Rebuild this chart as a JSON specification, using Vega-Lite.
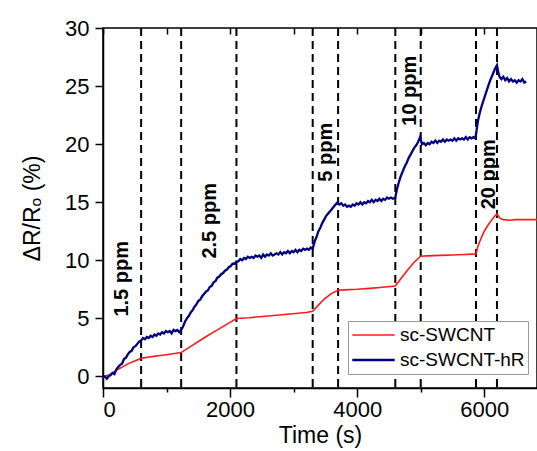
{
  "$schema": "https://vega.github.io/schema/vega-lite/v6.json",
  "width": 434,
  "height": 360,
  "autosize": {"type": "none"},
  "padding": {"left": 103, "top": 28, "right": 0, "bottom": 63},
  "background": "white",
  "config": {
    "view": {"stroke": "black", "strokeWidth": 1.5},
    "font": "Liberation Sans",
    "axis": {"domainColor": "black", "domainWidth": 1.5, "tickColor": "black", "tickWidth": 1.5, "labelColor": "black", "titleColor": "black", "grid": false, "labelFont": "Liberation Sans", "titleFont": "Liberation Sans", "titleFontWeight": "normal"}
  },
  "datasets": {
    "marks": [{"t": 600}, {"t": 1230}, {"t": 2100}, {"t": 3300}, {"t": 3700}, {"t": 4600}, {"t": 5000}, {"t": 5870}, {"t": 6200}],
    "labels": [
      {"t": 294, "v": 8.4, "label": "1.5 ppm"},
      {"t": 1680, "v": 13.4, "label": "2.5 ppm"},
      {"t": 3507, "v": 19.3, "label": "5 ppm"},
      {"t": 4830, "v": 24.6, "label": "10 ppm"},
      {"t": 6074, "v": 17.4, "label": "20 ppm"}
    ],
    "series": [
      {"series": "sc-SWCNT", "t": 0, "v": -0.05},
      {"series": "sc-SWCNT", "t": 50, "v": 0.05},
      {"series": "sc-SWCNT", "t": 100, "v": 0.15},
      {"series": "sc-SWCNT", "t": 150, "v": 0.3},
      {"series": "sc-SWCNT", "t": 200, "v": 0.5},
      {"series": "sc-SWCNT", "t": 300, "v": 0.8},
      {"series": "sc-SWCNT", "t": 400, "v": 1.1},
      {"series": "sc-SWCNT", "t": 500, "v": 1.33},
      {"series": "sc-SWCNT", "t": 600, "v": 1.55},
      {"series": "sc-SWCNT", "t": 700, "v": 1.65},
      {"series": "sc-SWCNT", "t": 800, "v": 1.72},
      {"series": "sc-SWCNT", "t": 900, "v": 1.8},
      {"series": "sc-SWCNT", "t": 1000, "v": 1.87},
      {"series": "sc-SWCNT", "t": 1100, "v": 1.95},
      {"series": "sc-SWCNT", "t": 1230, "v": 2.05},
      {"series": "sc-SWCNT", "t": 1400, "v": 2.65},
      {"series": "sc-SWCNT", "t": 1600, "v": 3.35},
      {"series": "sc-SWCNT", "t": 1800, "v": 4.0},
      {"series": "sc-SWCNT", "t": 2000, "v": 4.65},
      {"series": "sc-SWCNT", "t": 2100, "v": 4.98},
      {"series": "sc-SWCNT", "t": 2300, "v": 5.05},
      {"series": "sc-SWCNT", "t": 2600, "v": 5.2},
      {"series": "sc-SWCNT", "t": 2900, "v": 5.35},
      {"series": "sc-SWCNT", "t": 3200, "v": 5.5},
      {"series": "sc-SWCNT", "t": 3300, "v": 5.6},
      {"series": "sc-SWCNT", "t": 3400, "v": 6.2},
      {"series": "sc-SWCNT", "t": 3500, "v": 6.75},
      {"series": "sc-SWCNT", "t": 3600, "v": 7.15},
      {"series": "sc-SWCNT", "t": 3700, "v": 7.42},
      {"series": "sc-SWCNT", "t": 3800, "v": 7.45},
      {"series": "sc-SWCNT", "t": 4000, "v": 7.5},
      {"series": "sc-SWCNT", "t": 4200, "v": 7.58},
      {"series": "sc-SWCNT", "t": 4400, "v": 7.68},
      {"series": "sc-SWCNT", "t": 4600, "v": 7.78},
      {"series": "sc-SWCNT", "t": 4700, "v": 8.5},
      {"series": "sc-SWCNT", "t": 4800, "v": 9.2},
      {"series": "sc-SWCNT", "t": 4900, "v": 9.85},
      {"series": "sc-SWCNT", "t": 5000, "v": 10.35},
      {"series": "sc-SWCNT", "t": 5100, "v": 10.38},
      {"series": "sc-SWCNT", "t": 5300, "v": 10.42},
      {"series": "sc-SWCNT", "t": 5500, "v": 10.45},
      {"series": "sc-SWCNT", "t": 5700, "v": 10.5},
      {"series": "sc-SWCNT", "t": 5870, "v": 10.55},
      {"series": "sc-SWCNT", "t": 5900, "v": 11.2},
      {"series": "sc-SWCNT", "t": 5950, "v": 11.9},
      {"series": "sc-SWCNT", "t": 6000, "v": 12.5},
      {"series": "sc-SWCNT", "t": 6050, "v": 12.95},
      {"series": "sc-SWCNT", "t": 6100, "v": 13.35},
      {"series": "sc-SWCNT", "t": 6150, "v": 13.7},
      {"series": "sc-SWCNT", "t": 6200, "v": 14.0},
      {"series": "sc-SWCNT", "t": 6250, "v": 13.6},
      {"series": "sc-SWCNT", "t": 6300, "v": 13.5},
      {"series": "sc-SWCNT", "t": 6400, "v": 13.45},
      {"series": "sc-SWCNT", "t": 6500, "v": 13.5},
      {"series": "sc-SWCNT", "t": 6600, "v": 13.5},
      {"series": "sc-SWCNT", "t": 6700, "v": 13.5},
      {"series": "sc-SWCNT", "t": 6830, "v": 13.5},
      {"series": "sc-SWCNT-hR", "t": 0, "v": -0.1},
      {"series": "sc-SWCNT-hR", "t": 30, "v": 0.0},
      {"series": "sc-SWCNT-hR", "t": 60, "v": -0.2},
      {"series": "sc-SWCNT-hR", "t": 90, "v": 0.0},
      {"series": "sc-SWCNT-hR", "t": 120, "v": 0.1},
      {"series": "sc-SWCNT-hR", "t": 150, "v": 0.3},
      {"series": "sc-SWCNT-hR", "t": 180, "v": 0.2},
      {"series": "sc-SWCNT-hR", "t": 210, "v": 0.6},
      {"series": "sc-SWCNT-hR", "t": 240, "v": 0.8},
      {"series": "sc-SWCNT-hR", "t": 270, "v": 1.0},
      {"series": "sc-SWCNT-hR", "t": 300, "v": 1.1},
      {"series": "sc-SWCNT-hR", "t": 330, "v": 1.5},
      {"series": "sc-SWCNT-hR", "t": 360, "v": 1.6},
      {"series": "sc-SWCNT-hR", "t": 390, "v": 1.9},
      {"series": "sc-SWCNT-hR", "t": 420, "v": 2.1},
      {"series": "sc-SWCNT-hR", "t": 450, "v": 2.2},
      {"series": "sc-SWCNT-hR", "t": 480, "v": 2.5},
      {"series": "sc-SWCNT-hR", "t": 510, "v": 2.6},
      {"series": "sc-SWCNT-hR", "t": 540, "v": 2.8},
      {"series": "sc-SWCNT-hR", "t": 570, "v": 3.0},
      {"series": "sc-SWCNT-hR", "t": 600, "v": 3.1},
      {"series": "sc-SWCNT-hR", "t": 630, "v": 3.3},
      {"series": "sc-SWCNT-hR", "t": 660, "v": 3.2},
      {"series": "sc-SWCNT-hR", "t": 690, "v": 3.4},
      {"series": "sc-SWCNT-hR", "t": 720, "v": 3.3},
      {"series": "sc-SWCNT-hR", "t": 750, "v": 3.5},
      {"series": "sc-SWCNT-hR", "t": 780, "v": 3.4},
      {"series": "sc-SWCNT-hR", "t": 810, "v": 3.6},
      {"series": "sc-SWCNT-hR", "t": 840, "v": 3.5},
      {"series": "sc-SWCNT-hR", "t": 870, "v": 3.7},
      {"series": "sc-SWCNT-hR", "t": 900, "v": 3.6},
      {"series": "sc-SWCNT-hR", "t": 930, "v": 3.8},
      {"series": "sc-SWCNT-hR", "t": 960, "v": 3.7},
      {"series": "sc-SWCNT-hR", "t": 990, "v": 3.9},
      {"series": "sc-SWCNT-hR", "t": 1020, "v": 3.8},
      {"series": "sc-SWCNT-hR", "t": 1050, "v": 3.9},
      {"series": "sc-SWCNT-hR", "t": 1080, "v": 3.7},
      {"series": "sc-SWCNT-hR", "t": 1110, "v": 4.0},
      {"series": "sc-SWCNT-hR", "t": 1140, "v": 3.9},
      {"series": "sc-SWCNT-hR", "t": 1170, "v": 4.0},
      {"series": "sc-SWCNT-hR", "t": 1200, "v": 3.8},
      {"series": "sc-SWCNT-hR", "t": 1230, "v": 4.0},
      {"series": "sc-SWCNT-hR", "t": 1260, "v": 4.3},
      {"series": "sc-SWCNT-hR", "t": 1290, "v": 4.7},
      {"series": "sc-SWCNT-hR", "t": 1320, "v": 5.0},
      {"series": "sc-SWCNT-hR", "t": 1350, "v": 5.2},
      {"series": "sc-SWCNT-hR", "t": 1380, "v": 5.5},
      {"series": "sc-SWCNT-hR", "t": 1410, "v": 5.7},
      {"series": "sc-SWCNT-hR", "t": 1440, "v": 6.0},
      {"series": "sc-SWCNT-hR", "t": 1470, "v": 6.2},
      {"series": "sc-SWCNT-hR", "t": 1500, "v": 6.5},
      {"series": "sc-SWCNT-hR", "t": 1530, "v": 6.6},
      {"series": "sc-SWCNT-hR", "t": 1560, "v": 6.9},
      {"series": "sc-SWCNT-hR", "t": 1590, "v": 7.1},
      {"series": "sc-SWCNT-hR", "t": 1620, "v": 7.3},
      {"series": "sc-SWCNT-hR", "t": 1650, "v": 7.4},
      {"series": "sc-SWCNT-hR", "t": 1680, "v": 7.7},
      {"series": "sc-SWCNT-hR", "t": 1710, "v": 7.8},
      {"series": "sc-SWCNT-hR", "t": 1740, "v": 8.1},
      {"series": "sc-SWCNT-hR", "t": 1770, "v": 8.2},
      {"series": "sc-SWCNT-hR", "t": 1800, "v": 8.5},
      {"series": "sc-SWCNT-hR", "t": 1830, "v": 8.6},
      {"series": "sc-SWCNT-hR", "t": 1860, "v": 8.8},
      {"series": "sc-SWCNT-hR", "t": 1890, "v": 8.9},
      {"series": "sc-SWCNT-hR", "t": 1920, "v": 9.1},
      {"series": "sc-SWCNT-hR", "t": 1950, "v": 9.2},
      {"series": "sc-SWCNT-hR", "t": 1980, "v": 9.4},
      {"series": "sc-SWCNT-hR", "t": 2010, "v": 9.5},
      {"series": "sc-SWCNT-hR", "t": 2040, "v": 9.7},
      {"series": "sc-SWCNT-hR", "t": 2070, "v": 9.7},
      {"series": "sc-SWCNT-hR", "t": 2100, "v": 9.9},
      {"series": "sc-SWCNT-hR", "t": 2130, "v": 9.9},
      {"series": "sc-SWCNT-hR", "t": 2160, "v": 10.1},
      {"series": "sc-SWCNT-hR", "t": 2190, "v": 10.0},
      {"series": "sc-SWCNT-hR", "t": 2220, "v": 10.2},
      {"series": "sc-SWCNT-hR", "t": 2250, "v": 10.1},
      {"series": "sc-SWCNT-hR", "t": 2280, "v": 10.3},
      {"series": "sc-SWCNT-hR", "t": 2310, "v": 10.2},
      {"series": "sc-SWCNT-hR", "t": 2340, "v": 10.3},
      {"series": "sc-SWCNT-hR", "t": 2370, "v": 10.2},
      {"series": "sc-SWCNT-hR", "t": 2400, "v": 10.4},
      {"series": "sc-SWCNT-hR", "t": 2430, "v": 10.3},
      {"series": "sc-SWCNT-hR", "t": 2460, "v": 10.4},
      {"series": "sc-SWCNT-hR", "t": 2490, "v": 10.2},
      {"series": "sc-SWCNT-hR", "t": 2520, "v": 10.5},
      {"series": "sc-SWCNT-hR", "t": 2550, "v": 10.3},
      {"series": "sc-SWCNT-hR", "t": 2580, "v": 10.5},
      {"series": "sc-SWCNT-hR", "t": 2610, "v": 10.4},
      {"series": "sc-SWCNT-hR", "t": 2640, "v": 10.6},
      {"series": "sc-SWCNT-hR", "t": 2670, "v": 10.4},
      {"series": "sc-SWCNT-hR", "t": 2700, "v": 10.5},
      {"series": "sc-SWCNT-hR", "t": 2730, "v": 10.6},
      {"series": "sc-SWCNT-hR", "t": 2760, "v": 10.5},
      {"series": "sc-SWCNT-hR", "t": 2790, "v": 10.7},
      {"series": "sc-SWCNT-hR", "t": 2820, "v": 10.5},
      {"series": "sc-SWCNT-hR", "t": 2850, "v": 10.7},
      {"series": "sc-SWCNT-hR", "t": 2880, "v": 10.6},
      {"series": "sc-SWCNT-hR", "t": 2910, "v": 10.8},
      {"series": "sc-SWCNT-hR", "t": 2940, "v": 10.6},
      {"series": "sc-SWCNT-hR", "t": 2970, "v": 10.8},
      {"series": "sc-SWCNT-hR", "t": 3000, "v": 10.7},
      {"series": "sc-SWCNT-hR", "t": 3030, "v": 10.9},
      {"series": "sc-SWCNT-hR", "t": 3060, "v": 10.7},
      {"series": "sc-SWCNT-hR", "t": 3090, "v": 10.9},
      {"series": "sc-SWCNT-hR", "t": 3120, "v": 10.8},
      {"series": "sc-SWCNT-hR", "t": 3150, "v": 11.0},
      {"series": "sc-SWCNT-hR", "t": 3180, "v": 10.9},
      {"series": "sc-SWCNT-hR", "t": 3210, "v": 11.0},
      {"series": "sc-SWCNT-hR", "t": 3240, "v": 10.9},
      {"series": "sc-SWCNT-hR", "t": 3270, "v": 11.1},
      {"series": "sc-SWCNT-hR", "t": 3300, "v": 11.0},
      {"series": "sc-SWCNT-hR", "t": 3330, "v": 11.6},
      {"series": "sc-SWCNT-hR", "t": 3360, "v": 12.0},
      {"series": "sc-SWCNT-hR", "t": 3390, "v": 12.5},
      {"series": "sc-SWCNT-hR", "t": 3420, "v": 12.8},
      {"series": "sc-SWCNT-hR", "t": 3450, "v": 13.2},
      {"series": "sc-SWCNT-hR", "t": 3480, "v": 13.5},
      {"series": "sc-SWCNT-hR", "t": 3510, "v": 13.8},
      {"series": "sc-SWCNT-hR", "t": 3540, "v": 14.0},
      {"series": "sc-SWCNT-hR", "t": 3570, "v": 14.2},
      {"series": "sc-SWCNT-hR", "t": 3600, "v": 14.4},
      {"series": "sc-SWCNT-hR", "t": 3630, "v": 14.6},
      {"series": "sc-SWCNT-hR", "t": 3660, "v": 14.8},
      {"series": "sc-SWCNT-hR", "t": 3690, "v": 15.0},
      {"series": "sc-SWCNT-hR", "t": 3720, "v": 14.8},
      {"series": "sc-SWCNT-hR", "t": 3750, "v": 14.9},
      {"series": "sc-SWCNT-hR", "t": 3780, "v": 14.7},
      {"series": "sc-SWCNT-hR", "t": 3810, "v": 14.8},
      {"series": "sc-SWCNT-hR", "t": 3840, "v": 14.6},
      {"series": "sc-SWCNT-hR", "t": 3870, "v": 14.7},
      {"series": "sc-SWCNT-hR", "t": 3900, "v": 14.6},
      {"series": "sc-SWCNT-hR", "t": 3930, "v": 14.8},
      {"series": "sc-SWCNT-hR", "t": 3960, "v": 14.7},
      {"series": "sc-SWCNT-hR", "t": 3990, "v": 14.9},
      {"series": "sc-SWCNT-hR", "t": 4020, "v": 14.8},
      {"series": "sc-SWCNT-hR", "t": 4050, "v": 15.0},
      {"series": "sc-SWCNT-hR", "t": 4080, "v": 14.8},
      {"series": "sc-SWCNT-hR", "t": 4110, "v": 15.0},
      {"series": "sc-SWCNT-hR", "t": 4140, "v": 14.9},
      {"series": "sc-SWCNT-hR", "t": 4170, "v": 15.1},
      {"series": "sc-SWCNT-hR", "t": 4200, "v": 15.0},
      {"series": "sc-SWCNT-hR", "t": 4230, "v": 15.2},
      {"series": "sc-SWCNT-hR", "t": 4260, "v": 15.0},
      {"series": "sc-SWCNT-hR", "t": 4290, "v": 15.2},
      {"series": "sc-SWCNT-hR", "t": 4320, "v": 15.1},
      {"series": "sc-SWCNT-hR", "t": 4350, "v": 15.3},
      {"series": "sc-SWCNT-hR", "t": 4380, "v": 15.1},
      {"series": "sc-SWCNT-hR", "t": 4410, "v": 15.3},
      {"series": "sc-SWCNT-hR", "t": 4440, "v": 15.2},
      {"series": "sc-SWCNT-hR", "t": 4470, "v": 15.4},
      {"series": "sc-SWCNT-hR", "t": 4500, "v": 15.3},
      {"series": "sc-SWCNT-hR", "t": 4530, "v": 15.4},
      {"series": "sc-SWCNT-hR", "t": 4560, "v": 15.3},
      {"series": "sc-SWCNT-hR", "t": 4600, "v": 15.4},
      {"series": "sc-SWCNT-hR", "t": 4630, "v": 16.2},
      {"series": "sc-SWCNT-hR", "t": 4660, "v": 16.8},
      {"series": "sc-SWCNT-hR", "t": 4690, "v": 17.3},
      {"series": "sc-SWCNT-hR", "t": 4720, "v": 17.7},
      {"series": "sc-SWCNT-hR", "t": 4750, "v": 18.1},
      {"series": "sc-SWCNT-hR", "t": 4780, "v": 18.4},
      {"series": "sc-SWCNT-hR", "t": 4810, "v": 18.8},
      {"series": "sc-SWCNT-hR", "t": 4840, "v": 19.1},
      {"series": "sc-SWCNT-hR", "t": 4870, "v": 19.4},
      {"series": "sc-SWCNT-hR", "t": 4900, "v": 19.7},
      {"series": "sc-SWCNT-hR", "t": 4930, "v": 19.9},
      {"series": "sc-SWCNT-hR", "t": 4960, "v": 20.2},
      {"series": "sc-SWCNT-hR", "t": 4990, "v": 20.6},
      {"series": "sc-SWCNT-hR", "t": 5020, "v": 20.0},
      {"series": "sc-SWCNT-hR", "t": 5050, "v": 20.1},
      {"series": "sc-SWCNT-hR", "t": 5080, "v": 19.9},
      {"series": "sc-SWCNT-hR", "t": 5110, "v": 20.1},
      {"series": "sc-SWCNT-hR", "t": 5140, "v": 20.0},
      {"series": "sc-SWCNT-hR", "t": 5170, "v": 20.2},
      {"series": "sc-SWCNT-hR", "t": 5200, "v": 20.1},
      {"series": "sc-SWCNT-hR", "t": 5230, "v": 20.3},
      {"series": "sc-SWCNT-hR", "t": 5260, "v": 20.1},
      {"series": "sc-SWCNT-hR", "t": 5290, "v": 20.3},
      {"series": "sc-SWCNT-hR", "t": 5320, "v": 20.2},
      {"series": "sc-SWCNT-hR", "t": 5350, "v": 20.4},
      {"series": "sc-SWCNT-hR", "t": 5380, "v": 20.2},
      {"series": "sc-SWCNT-hR", "t": 5410, "v": 20.4},
      {"series": "sc-SWCNT-hR", "t": 5440, "v": 20.3},
      {"series": "sc-SWCNT-hR", "t": 5470, "v": 20.4},
      {"series": "sc-SWCNT-hR", "t": 5500, "v": 20.3},
      {"series": "sc-SWCNT-hR", "t": 5530, "v": 20.5},
      {"series": "sc-SWCNT-hR", "t": 5560, "v": 20.3},
      {"series": "sc-SWCNT-hR", "t": 5590, "v": 20.5},
      {"series": "sc-SWCNT-hR", "t": 5620, "v": 20.4},
      {"series": "sc-SWCNT-hR", "t": 5650, "v": 20.5},
      {"series": "sc-SWCNT-hR", "t": 5680, "v": 20.4},
      {"series": "sc-SWCNT-hR", "t": 5710, "v": 20.6},
      {"series": "sc-SWCNT-hR", "t": 5740, "v": 20.4},
      {"series": "sc-SWCNT-hR", "t": 5770, "v": 20.6},
      {"series": "sc-SWCNT-hR", "t": 5800, "v": 20.5},
      {"series": "sc-SWCNT-hR", "t": 5830, "v": 20.6},
      {"series": "sc-SWCNT-hR", "t": 5860, "v": 20.5},
      {"series": "sc-SWCNT-hR", "t": 5880, "v": 21.2},
      {"series": "sc-SWCNT-hR", "t": 5900, "v": 22.0},
      {"series": "sc-SWCNT-hR", "t": 5930, "v": 22.7},
      {"series": "sc-SWCNT-hR", "t": 5960, "v": 23.3},
      {"series": "sc-SWCNT-hR", "t": 5990, "v": 23.8},
      {"series": "sc-SWCNT-hR", "t": 6020, "v": 24.3},
      {"series": "sc-SWCNT-hR", "t": 6050, "v": 24.8},
      {"series": "sc-SWCNT-hR", "t": 6080, "v": 25.3},
      {"series": "sc-SWCNT-hR", "t": 6110, "v": 25.7},
      {"series": "sc-SWCNT-hR", "t": 6140, "v": 26.1},
      {"series": "sc-SWCNT-hR", "t": 6170, "v": 26.5},
      {"series": "sc-SWCNT-hR", "t": 6200, "v": 26.8},
      {"series": "sc-SWCNT-hR", "t": 6220, "v": 26.2},
      {"series": "sc-SWCNT-hR", "t": 6240, "v": 25.8},
      {"series": "sc-SWCNT-hR", "t": 6270, "v": 25.6},
      {"series": "sc-SWCNT-hR", "t": 6300, "v": 25.8},
      {"series": "sc-SWCNT-hR", "t": 6330, "v": 25.5},
      {"series": "sc-SWCNT-hR", "t": 6360, "v": 25.7},
      {"series": "sc-SWCNT-hR", "t": 6390, "v": 25.4},
      {"series": "sc-SWCNT-hR", "t": 6420, "v": 25.6},
      {"series": "sc-SWCNT-hR", "t": 6450, "v": 25.4},
      {"series": "sc-SWCNT-hR", "t": 6480, "v": 25.5},
      {"series": "sc-SWCNT-hR", "t": 6510, "v": 25.3},
      {"series": "sc-SWCNT-hR", "t": 6540, "v": 25.5},
      {"series": "sc-SWCNT-hR", "t": 6570, "v": 25.4},
      {"series": "sc-SWCNT-hR", "t": 6600, "v": 25.6},
      {"series": "sc-SWCNT-hR", "t": 6630, "v": 25.3},
      {"series": "sc-SWCNT-hR", "t": 6660, "v": 25.4}
    ]
  },
  "resolve": {"axis": {"x": "independent"}},
  "layer": [
    {
      "data": {"name": "marks"},
      "mark": {"type": "rule", "strokeDash": [8, 5], "strokeWidth": 2, "color": "black"},
      "encoding": {
        "x": {"field": "t", "type": "quantitative", "scale": {"domain": [0, 6830], "nice": false},
          "axis": {"orient": "top", "values": [0, 1000, 2000, 3000, 4000, 5000, 6000], "labels": false, "domain": false, "tickSize": -6, "title": null}}
      }
    },
    {
      "data": {"name": "series"},
      "mark": {"type": "line"},
      "encoding": {
        "x": {"field": "t", "type": "quantitative", "scale": {"domain": [0, 6830], "nice": false},
          "axis": {"orient": "bottom", "title": "Time (s)", "values": [0, 1000, 2000, 3000, 4000, 5000, 6000], "format": "d",
            "labelExpr": "datum.value % 2000 === 0 ? datum.label : ''",
            "tickSize": {"condition": {"test": "datum.value % 2000 === 0", "value": 9}, "value": 4},
            "labelPadding": 2, "labelFontSize": 22, "titleFontSize": 23, "titlePadding": 4}},
        "y": {"field": "v", "type": "quantitative", "scale": {"domain": [-1, 30], "nice": false},
          "axis": {"title": "ΔR/Rₒ (%)", "values": [0, 2.5, 5, 7.5, 10, 12.5, 15, 17.5, 20, 22.5, 25, 27.5, 30],
            "labelExpr": "datum.value % 5 === 0 ? datum.label : ''",
            "tickSize": {"condition": {"test": "datum.value % 5 === 0", "value": 8}, "value": 4},
            "labelPadding": 6, "labelFontSize": 22, "titleFontSize": 23, "titlePadding": 20}},
        "color": {"field": "series", "type": "nominal",
          "scale": {"domain": ["sc-SWCNT", "sc-SWCNT-hR"], "range": ["#ff1a1a", "#000080"]},
          "legend": {"title": null, "orient": "none", "legendX": 245, "legendY": 293, "symbolType": "stroke", "symbolSize": 1800, "symbolStrokeWidth": 2, "clipHeight": 22, "rowPadding": 3, "padding": 3, "labelOffset": 4, "labelFontSize": 19, "labelFont": "Liberation Sans", "labelColor": "black", "strokeColor": "#999999", "fillColor": "white"}},
        "strokeWidth": {"field": "series", "type": "nominal", "scale": {"domain": ["sc-SWCNT", "sc-SWCNT-hR"], "range": [1.6, 2.3]}, "legend": null}
      }
    },
    {
      "data": {"name": "labels"},
      "mark": {"type": "text", "angle": 270, "fontWeight": "bold", "fontSize": 20, "font": "Liberation Sans", "color": "black", "align": "center", "baseline": "middle"},
      "encoding": {
        "x": {"field": "t", "type": "quantitative", "axis": null},
        "y": {"field": "v", "type": "quantitative"},
        "text": {"field": "label"}
      }
    }
  ]
}
